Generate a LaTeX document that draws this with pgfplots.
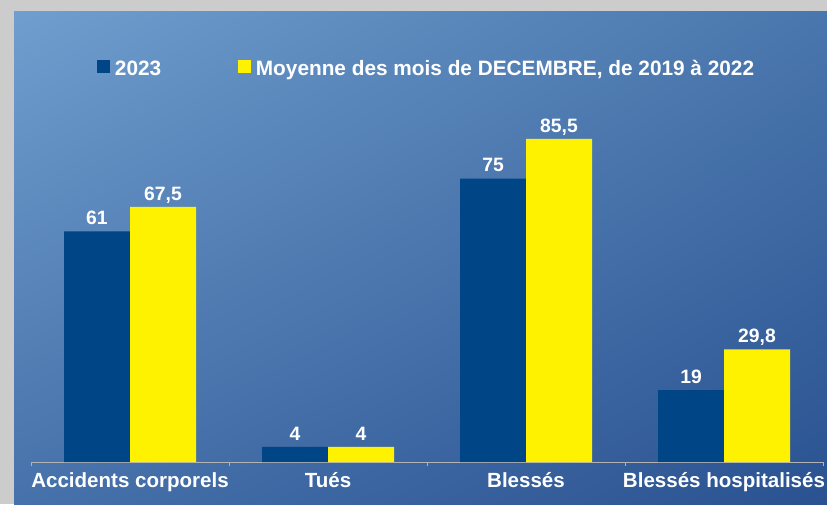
\documentclass[border=0pt]{standalone}
\usepackage{pgfplots}
\pgfplotsset{compat=1.18}
\usetikzlibrary{shadings}
\usepackage{fontspec}
\setmainfont{Liberation Sans}
\definecolor{frame}{HTML}{CCCCCC}
\definecolor{bgTL}{HTML}{709ECE}
\definecolor{bgTR}{HTML}{4976AC}
\definecolor{bgBL}{HTML}{4671AA}
\definecolor{bgBR}{HTML}{2A5291}
\definecolor{barblue}{HTML}{004586}
\definecolor{baryellow}{HTML}{FFF200}
\definecolor{axgrey}{HTML}{B3B3B3}
\begin{document}
\begin{tikzpicture}
\useasboundingbox (0,0) rectangle (620.25pt,-378pt);
\fill[frame] (0,0) rectangle (620.25pt,-378pt);
\shade[upper left=bgTL, upper right=bgTR, lower left=bgBL, lower right=bgBR] (10.5pt,-8.25pt) rectangle (620.25pt,-378pt);
\begin{axis}[
  at={(23.25pt,-346.5pt)}, anchor=south west,
  scale only axis, width=594pt, height=283.5pt,
  xmin=-0.5, xmax=3.5, ymin=0, ymax=100,
  axis x line*=bottom, axis y line=none,
  x axis line style={draw=axgrey, line width=0.75pt, -},
  ytick=\empty,
  xtick={0,1,2,3},
  xticklabels={Accidents corporels, Tués, Blessés, Blessés hospitalisés},
  major tick length=0pt,
  minor xtick={-0.5,0.5,1.5,2.5,3.5},
  minor tick length=3pt,
  tick align=outside,
  minor x tick style={draw=axgrey, line width=0.75pt},
  typeset ticklabels with strut,
  xticklabel style={font=\bfseries\fontsize{15.4}{18}\selectfont, text=white, inner sep=0pt, yshift=-6pt},
  ybar=0pt, bar width=49.5pt,
  nodes near coords,
  nodes near coords style={font=\bfseries\fontsize{14.5}{17}\selectfont, text=white, anchor=south, inner sep=0pt, text depth=0pt, yshift=4.9pt, /pgf/number format/assume math mode=true, /pgf/number format/use comma},
  legend columns=2,
  legend style={at={(0.0833,1.04)}, anchor=west, draw=none, fill=none, inner sep=0pt, outer sep=0pt,
    font=\bfseries\fontsize{15.6}{18}\selectfont, text=white,
    /tikz/every even column/.append style={column sep=57.5pt},
    /tikz/every odd column/.append style={column sep=3.75pt},
    nodes={inner sep=0pt}},
  legend image code/.code={\fill[#1] (0pt,-3pt) rectangle (9.75pt,6.75pt);},
]
\addplot[fill=barblue, draw=none] coordinates {(0,61) (1,4) (2,75) (3,19)};
\addlegendentry{2023}
\addplot[fill=baryellow, draw=none] coordinates {(0,67.5) (1,4) (2,85.5) (3,29.8)};
\addlegendentry{Moyenne des mois de DECEMBRE, de 2019 à 2022}
\end{axis}
\end{tikzpicture}
\end{document}
